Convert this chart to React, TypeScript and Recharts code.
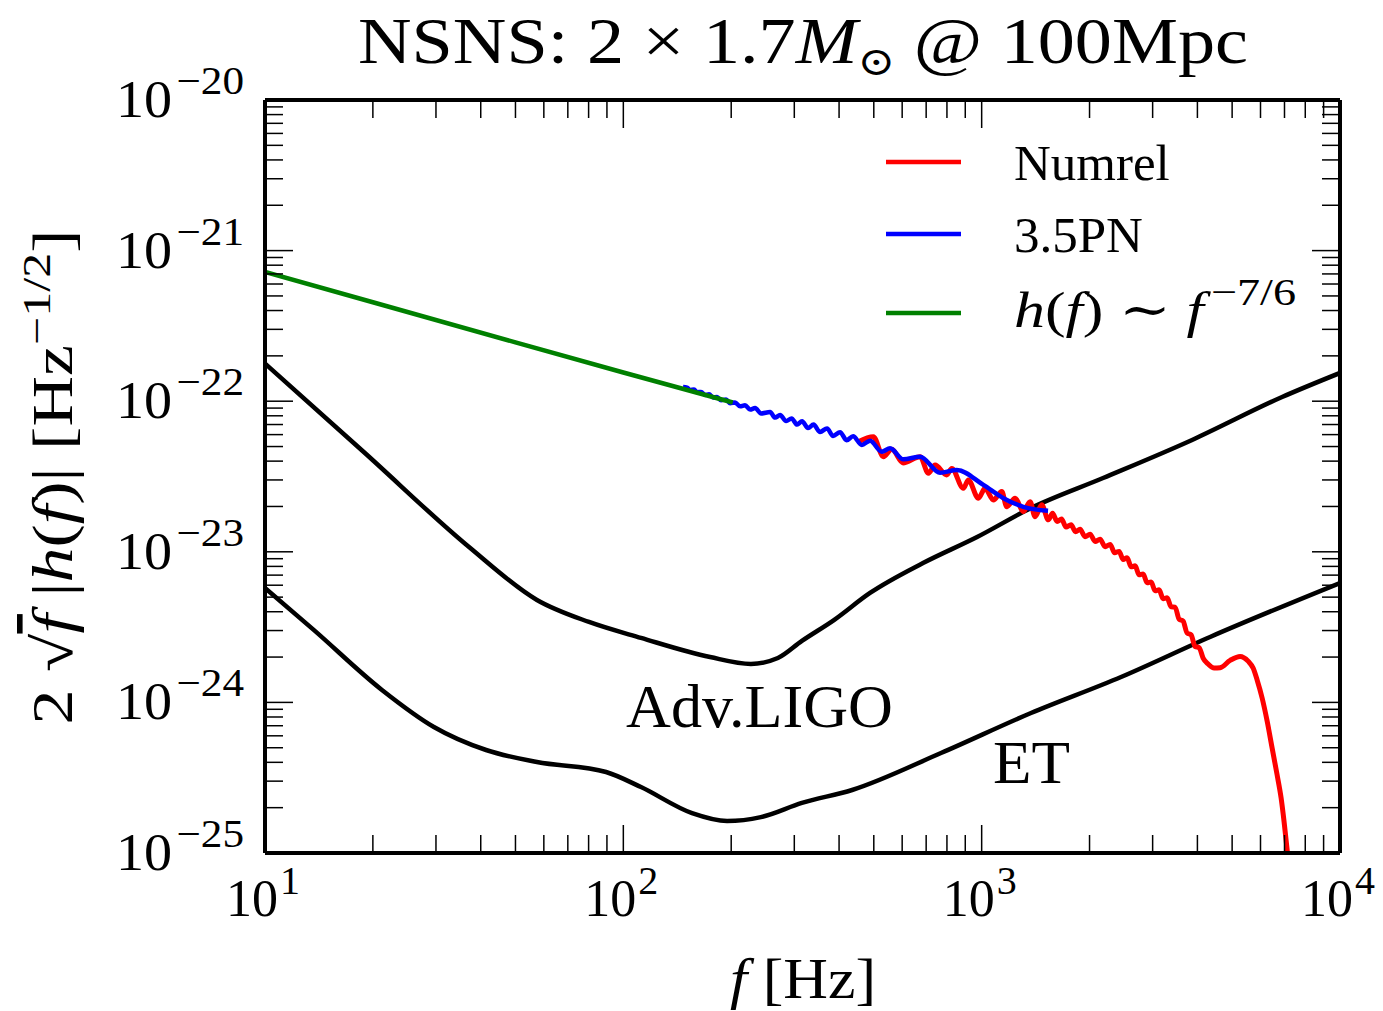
import React from 'react';
import { LineChart, Line, XAxis, YAxis, Legend, Customized } from 'recharts';

const FONT = '"Liberation Serif", "DejaVu Serif", serif';

// detector noise curves
const ligoFreq = [10, 19.0, 37.1, 57.4, 80.2, 112, 174.6, 227, 270, 315, 387, 488, 686, 971, 1373, 2182, 3866, 6893, 10000];
const ligoAsd = [1.78e-22, 4.53e-23, 1.076e-23, 4.79e-24, 3.42e-24, 2.68e-24, 2.0e-24, 1.8e-24, 1.97e-24, 2.56e-24, 3.52e-24, 5.33e-24, 8.42e-24, 1.254e-23, 1.954e-23, 3.09e-23, 5.53e-23, 1.066e-22, 1.54e-22];

const etFreq = [10, 13.7, 21.2, 29.6, 41.4, 57.4, 89.5, 112, 155.5, 194.7, 242, 315, 435, 770, 1373, 2449, 4339, 10000];
const etAsd = [5.75e-24, 3.02e-24, 1.21e-24, 6.87e-25, 4.83e-25, 4.02e-25, 3.45e-25, 2.74e-25, 1.84e-25, 1.63e-25, 1.73e-25, 2.15e-25, 2.62e-25, 4.61e-25, 8.5e-25, 1.475e-24, 2.72e-24, 6.21e-24];

// numerical relativity spectrum
const numrelFreq = [
  452.8, 498.5, 531.7, 561.2, 603.4, 673.2, 710.2, 741.4, 798.9, 825.0, 889.0, 918.0, 979.1, 1022, 1078, 1138,
  1175, 1240, 1307, 1365, 1409, 1471, 1535, 1577, 1624, 1671, 1720, 1776, 1828, 1882, 1943, 2007, 2073, 2140,
  2211, 2283, 2350, 2419, 2482, 2546, 2613, 2681, 2750, 2822, 2896, 2971, 3048, 3127, 3209, 3292, 3378, 3466,
  3556, 3648, 3743, 3841, 3941, 4044, 4149, 4285, 4453, 4628, 4936, 5262, 5541, 5722, 5871, 6063, 6261, 6465,
  6676, 6849, 6982, 7120, 7212,
];
const numrelAmp = [
  5.38e-23, 5.81e-23, 4.28e-23, 4.79e-23, 3.89e-23, 4.28e-23, 3.32e-23, 3.77e-23, 3.24e-23, 3.58e-23, 2.64e-23,
  3.0e-23, 2.27e-23, 2.64e-23, 2.21e-23, 2.51e-23, 1.99e-23, 2.27e-23, 1.85e-23, 2.15e-23, 1.71e-23, 2.05e-23,
  1.63e-23, 1.8e-23, 1.59e-23, 1.65e-23, 1.46e-23, 1.51e-23, 1.36e-23, 1.41e-23, 1.26e-23, 1.31e-23, 1.17e-23,
  1.21e-23, 1.08e-23, 1.12e-23, 9.85e-24, 1.006e-23, 8.88e-24, 9.12e-24, 7.95e-24, 8.07e-24, 7.03e-24, 7.13e-24,
  6.22e-24, 6.31e-24, 5.51e-24, 5.59e-24, 4.88e-24, 4.95e-24, 4.31e-24, 4.29e-24, 3.57e-24, 3.47e-24, 2.89e-24,
  2.81e-24, 2.35e-24, 2.31e-24, 1.97e-24, 1.8e-24, 1.69e-24, 1.7e-24, 1.9e-24, 2.02e-24, 1.88e-24, 1.69e-24,
  1.41e-24, 1.07e-24, 7.52e-25, 4.98e-25, 3.3e-25, 2.32e-25, 1.61e-25, 1.05e-25, 7.7e-26,
];

// 3.5PN inspiral
const pnFreq = [
  146.8, 150.6, 153.5, 157.5, 160.6, 164.8, 169.0, 173.5, 178.0, 182.6, 187.4, 193.5, 198.6, 205.0, 211.7, 218.6,
  225.8, 233.2, 242.3, 256.8, 265.1, 273.8, 284.6, 294.8, 305.4, 315.3, 327.7, 339.5, 354.0, 370.3, 384.9, 402.6,
  419.7, 437.7, 462.8, 488.2, 526.3, 555.2, 604.5, 673.2, 765.4, 852.3, 1011, 1150, 1307, 1532,
];
const pnAmp = [
  1.242e-22, 1.231e-22, 1.187e-22, 1.194e-22, 1.146e-22, 1.153e-22, 1.101e-22, 1.111e-22, 1.057e-22, 1.068e-22,
  1.015e-22, 1.025e-22, 9.7e-23, 9.82e-23, 9.24e-23, 9.41e-23, 8.8e-23, 9.0e-23, 8.29e-23, 8.47e-23, 7.78e-23,
  8.09e-23, 7.38e-23, 7.69e-23, 6.99e-23, 7.36e-23, 6.63e-23, 6.99e-23, 6.25e-23, 6.6e-23, 5.87e-23, 6.23e-23,
  5.51e-23, 5.85e-23, 5.12e-23, 5.47e-23, 4.62e-23, 4.87e-23, 4.11e-23, 4.28e-23, 3.35e-23, 3.49e-23, 2.78e-23,
  2.27e-23, 1.99e-23, 1.87e-23,
];

// Newtonian power law
const fitFreq = [10, 20, 50, 100, 202];
const fitAmp = [7.21e-22, 4.54e-22, 2.46e-22, 1.55e-22, 9.8e-23];

const seriesNames = ['Numrel', '3.5PN', 'h(f) ~ f^-7/6'];
const seriesColors = ['#ff0000', '#0000ff', '#008000'];

const xTicks = [
  10, 20, 30, 40, 50, 60, 70, 80, 90, 100, 200, 300, 400, 500, 600, 700, 800, 900, 1000, 2000, 3000, 4000, 5000,
  6000, 7000, 8000, 9000, 10000,
];
const yTicks = [
  1e-25, 2e-25, 3e-25, 4e-25, 5e-25, 6e-25, 7e-25, 8e-25, 9e-25,
  1e-24, 2e-24, 3e-24, 4e-24, 5e-24, 6e-24, 7e-24, 8e-24, 9e-24,
  1e-23, 2e-23, 3e-23, 4e-23, 5e-23, 6e-23, 7e-23, 8e-23, 9e-23,
  1e-22, 2e-22, 3e-22, 4e-22, 5e-22, 6e-22, 7e-22, 8e-22, 9e-22,
  1e-21, 2e-21, 3e-21, 4e-21, 5e-21, 6e-21, 7e-21, 8e-21, 9e-21,
  1e-20,
];

const toPoints = (fs: number[], vs: number[]) => fs.map((f, i) => ({ f, v: vs[i] }));

const ligoData = toPoints(ligoFreq, ligoAsd);
const etData = toPoints(etFreq, etAsd);
const numrelData = toPoints(numrelFreq, numrelAmp);
const pnData = toPoints(pnFreq, pnAmp);
const fitData = toPoints(fitFreq, fitAmp);

const MAJOR = 28;
const MINOR = 18;

const decade = (v: number) => {
  const e = Math.log10(v);
  return { exp: Math.round(e), major: Math.abs(e - Math.round(e)) < 1e-6 };
};

const expText = (n: number) => (n < 0 ? `\u2212${-n}` : `${n}`);

function BottomTick(props: any) {
  const { x, y, payload } = props;
  const { exp, major } = decade(payload.value);
  return (
    <g>
      <line x1={x} x2={x} y1={y} y2={y - (major ? MAJOR : MINOR)} stroke="#000" strokeWidth={1.5} />
      {major && (
        <text x={x - 2} y={y + 63} textAnchor="middle" fontFamily={FONT} fontSize={52} fill="#000">
          10
          <tspan dx={2} dy={-22} fontSize={40}>{expText(exp)}</tspan>
        </text>
      )}
    </g>
  );
}

function TopTick(props: any) {
  const { x, y, payload } = props;
  const { major } = decade(payload.value);
  return <line x1={x} x2={x} y1={y} y2={y + (major ? MAJOR : MINOR)} stroke="#000" strokeWidth={1.5} />;
}

function LeftTick(props: any) {
  const { x, y, payload } = props;
  const { exp, major } = decade(payload.value);
  return (
    <g>
      <line x1={x} x2={x + (major ? MAJOR : MINOR)} y1={y} y2={y} stroke="#000" strokeWidth={1.5} />
      {major && (
        <text
          x={x - 21}
          y={y + 17}
          textAnchor="end"
          fontFamily={FONT}
          fontSize={52}
          fill="#000"
          textLength={128}
          lengthAdjust="spacingAndGlyphs"
        >
          10
          <tspan dx={4} dy={-23} fontSize={40}>{expText(exp)}</tspan>
        </text>
      )}
    </g>
  );
}

function RightTick(props: any) {
  const { x, y, payload } = props;
  const { major } = decade(payload.value);
  return <line x1={x} x2={x - (major ? MAJOR : MINOR)} y1={y} y2={y} stroke="#000" strokeWidth={1.5} />;
}

function SeriesLabel({ name }: { name: string }) {
  if (name === seriesNames[2]) {
    return (
      <>
        <tspan fontStyle="italic">h</tspan>(<tspan fontStyle="italic">f</tspan>) {'\u223C'}{' '}
        <tspan fontStyle="italic">f</tspan>
        <tspan dx={6} dy={-22} fontSize={38}>{'\u22127/6'}</tspan>
      </>
    );
  }
  return <>{name}</>;
}

function LegendContent(props: any) {
  const rowY = [32, 104, 183];
  const items = (props.payload || [])
    .filter((item: any) => seriesNames.includes(item.value))
    .sort((a: any, b: any) => seriesNames.indexOf(a.value) - seriesNames.indexOf(b.value));
  return (
    <svg width={440} height={230} style={{ display: 'block' }}>
      {items.map((item: any, i: number) => (
        <g key={item.value}>
          <line x1={6} x2={81} y1={rowY[i]} y2={rowY[i]} stroke={item.color} strokeWidth={4.5} />
          <text
            x={134}
            y={rowY[i] + (i === 2 ? 14 : 18)}
            fontFamily={FONT}
            fontSize={51}
            fill="#000"
            textLength={i === 2 ? 282 : undefined}
            lengthAdjust="spacingAndGlyphs"
          >
            <SeriesLabel name={item.value} />
          </text>
        </g>
      ))}
    </svg>
  );
}

function Annotations() {
  return (
    <g fontFamily={FONT} fill="#000">
      <text x={803} y={63} textAnchor="middle" fontSize={66} textLength={890} lengthAdjust="spacingAndGlyphs">
        NSNS: 2 {'\u00D7'} 1.7<tspan fontStyle="italic">M</tspan>
        <tspan dy={12} fontSize={40}>{'\u2299'}</tspan>
        <tspan dy={-12}> @ 100Mpc</tspan>
      </text>
      <text x={626} y={727} fontSize={61} textLength={267} lengthAdjust="spacingAndGlyphs">Adv.LIGO</text>
      <text x={993} y={783} fontSize={61} textLength={77} lengthAdjust="spacingAndGlyphs">ET</text>
      <text x={803} y={998} textAnchor="middle" fontSize={56} textLength={146} lengthAdjust="spacingAndGlyphs">
        <tspan fontStyle="italic">f</tspan>  [Hz]
      </text>
      <text
        transform="translate(72, 477) rotate(-90)"
        textAnchor="middle"
        fontSize={56}
        textLength={495}
        lengthAdjust="spacingAndGlyphs"
      >
        2 {'\u221A'}
        <tspan fontStyle="italic" textDecoration="overline">f</tspan> |<tspan fontStyle="italic">h</tspan>(
        <tspan fontStyle="italic">f</tspan>)| [Hz
        <tspan dy={-22} fontSize={40}>{'\u22121/2'}</tspan>
        <tspan dy={22}>]</tspan>
      </text>
    </g>
  );
}

const frame = { stroke: '#000', strokeWidth: 4 };

export default function App() {
  return (
    <div style={{ position: 'absolute', left: 0, top: 0, background: '#fff' }}>
      <LineChart width={1383} height={1011} margin={{ top: 99, right: 42, bottom: 157, left: 264 }}>
        <XAxis
          dataKey="f"
          type="number"
          scale="log"
          domain={[10, 10000]}
          allowDataOverflow
          ticks={xTicks}
          interval={0}
          height={1}
          tickSize={0}
          tickMargin={0}
          tickLine={false}
          axisLine={frame}
          tick={(p: any) => <BottomTick {...p} />}
        />
        <XAxis
          xAxisId="top"
          orientation="top"
          dataKey="f"
          type="number"
          scale="log"
          domain={[10, 10000]}
          allowDataOverflow
          ticks={xTicks}
          interval={0}
          height={1}
          tickSize={0}
          tickMargin={0}
          tickLine={false}
          axisLine={frame}
          tick={(p: any) => <TopTick {...p} />}
        />
        <YAxis
          type="number"
          scale="log"
          domain={[1e-25, 1e-20]}
          allowDataOverflow
          ticks={yTicks}
          interval={0}
          width={1}
          tickSize={0}
          tickMargin={0}
          tickLine={false}
          axisLine={frame}
          tick={(p: any) => <LeftTick {...p} />}
        />
        <YAxis
          yAxisId="right"
          orientation="right"
          type="number"
          scale="log"
          domain={[1e-25, 1e-20]}
          allowDataOverflow
          ticks={yTicks}
          interval={0}
          width={1}
          tickSize={0}
          tickMargin={0}
          tickLine={false}
          axisLine={frame}
          tick={(p: any) => <RightTick {...p} />}
        />
        <Line data={ligoData} dataKey="v" name="Adv.LIGO" type="monotone" stroke="#000" strokeWidth={4.5} dot={false} legendType="none" isAnimationActive={false} />
        <Line data={etData} dataKey="v" name="ET" type="monotone" stroke="#000" strokeWidth={4.5} dot={false} legendType="none" isAnimationActive={false} />
        <Line data={numrelData} dataKey="v" name={seriesNames[0]} type="monotone" stroke={seriesColors[0]} strokeWidth={5} dot={false} isAnimationActive={false} />
        <Line data={pnData} dataKey="v" name={seriesNames[1]} type="monotone" stroke={seriesColors[1]} strokeWidth={4.5} dot={false} isAnimationActive={false} />
        <Line data={fitData} dataKey="v" name={seriesNames[2]} type="linear" stroke={seriesColors[2]} strokeWidth={4.5} dot={false} isAnimationActive={false} />
        <Legend
          layout="vertical"
          align="center"
          verticalAlign="middle"
          wrapperStyle={{ left: 880, top: 130, width: 440, height: 230 }}
          content={(p: any) => <LegendContent {...p} />}
        />
        <Customized component={Annotations} />
      </LineChart>
    </div>
  );
}
